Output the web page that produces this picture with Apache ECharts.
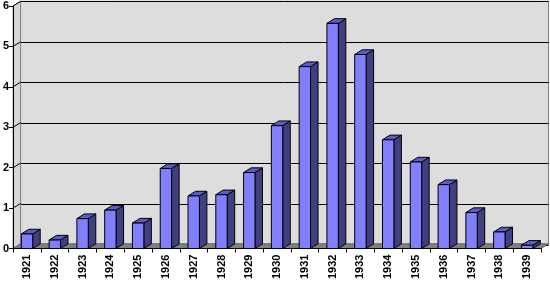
<!DOCTYPE html>
<html><head><meta charset="utf-8">
<script src="https://cdn.jsdelivr.net/npm/echarts@6/dist/echarts.min.js"></script>
<style>html,body{margin:0;padding:0;background:#fff}#c{width:550px;height:282px}</style>
</head><body><div id="c"></div>
<script>
const years = ['1921','1922','1923','1924','1925','1926','1927','1928','1929','1930','1931','1932','1933','1934','1935','1936','1937','1938','1939'];
const values = [0.36,0.21,0.74,0.95,0.63,1.98,1.30,1.33,1.88,3.04,4.50,5.57,4.80,2.69,2.14,1.58,0.89,0.41,0.08];
const yTicks = [0,1,2,3,4,5,6];

const DX = 7.5, DY = -4.7;
const FONT = '"Liberation Sans", Arial, sans-serif';
const chart = echarts.init(document.getElementById('c'), null, {renderer:'canvas'});

function wallsRender(params, api) {
  const cs = params.coordSys;
  const y0 = api.coord([0, 0])[1];
  const xl = cs.x, xr = cs.x + cs.width;
  const children = [];
  // left wall
  const yTop = api.coord([0, yTicks[yTicks.length-1]])[1];
  children.push({type:'polygon', shape:{points:[[xl,yTop],[xl+DX,yTop+DY],[xl+DX,y0+DY],[xl,y0]]},
    style:{fill:'#d6d6d6', stroke:'#808080', lineWidth:1}});
  // floor
  children.push({type:'polygon', shape:{points:[[xl,y0],[xr,y0],[xr+DX,y0+DY],[xl+DX,y0+DY]]},
    style:{fill:'#808080', stroke:'#606060', lineWidth:1}});
  // side-wall gridlines
  yTicks.forEach(v => {
    if (v === 0) return;
    const y = api.coord([0, v])[1];
    children.push({type:'line', shape:{x1:xl, y1:y, x2:xl+DX, y2:y+DY}, style:{stroke:'#000', lineWidth:1}});
  });
  return {type:'group', children};
}

function barRender(params, api) {
  const i = api.value(0), v = api.value(1);
  const top = api.coord([i, v]);
  const base = api.coord([i, 0]);
  const w = api.size([1, 0])[0] * 0.41;
  const x0 = top[0] - w/2, x1 = top[0] + w/2;
  const yt = top[1], yb = base[1];
  const st = {stroke:'#000', lineWidth:1, lineJoin:'round'};
  return {type:'group', children:[
    {type:'polygon', shape:{points:[[x1,yt],[x1+DX,yt+DY],[x1+DX,yb+DY],[x1,yb]]}, style:Object.assign({fill:'#404080'}, st)},
    {type:'polygon', shape:{points:[[x0,yt],[x1,yt],[x1+DX,yt+DY],[x0+DX,yt+DY]]}, style:Object.assign({fill:'#5c5cc8'}, st)},
    {type:'rect', shape:{x:x0, y:yt, width:w, height:yb-yt}, style:Object.assign({fill:'#8080ff'}, st)}
  ]};
}

chart.setOption({
  animation:false,
  backgroundColor:'#fff',
  grid:[
    {left:13, right:9, top:6, bottom:32.5, containLabel:false},
    {left:20.5, right:1.5, top:1.3, bottom:37.2, containLabel:false, show:true, backgroundColor:'#dddddd', borderColor:'#808080', borderWidth:1}
  ],
  xAxis:[
    {type:'category', gridIndex:0, data:years, z:5,
     axisLine:{show:true, lineStyle:{color:'#000', width:1}},
     axisTick:{show:true, length:4, lineStyle:{color:'#000'}},
     axisLabel:{rotate:90, margin:6, color:'#000', fontSize:11, fontWeight:'bold', fontFamily:FONT, interval:0},
     splitLine:{show:false}},
    {type:'category', gridIndex:1, data:years, show:false}
  ],
  yAxis:[
    {type:'value', gridIndex:0, min:0, max:6, interval:1, z:5,
     axisLine:{show:true, lineStyle:{color:'#000', width:1}},
     axisTick:{show:true, length:4, lineStyle:{color:'#000'}},
     axisLabel:{margin:4, color:'#000', fontSize:11, fontWeight:'bold', fontFamily:FONT},
     splitLine:{show:false}},
    {type:'value', gridIndex:1, min:0, max:6, interval:1,
     axisLine:{show:false}, axisTick:{show:false}, axisLabel:{show:false},
     splitLine:{show:true, lineStyle:{color:'#000', width:1}}}
  ],
  series:[
    {type:'custom', xAxisIndex:0, yAxisIndex:0, z:1, silent:true, data:[[0,0]], renderItem:wallsRender},
    {type:'custom', xAxisIndex:0, yAxisIndex:0, z:2, data:values.map((v,i)=>[i,v]), renderItem:barRender}
  ]
});
</script>
</body></html>
